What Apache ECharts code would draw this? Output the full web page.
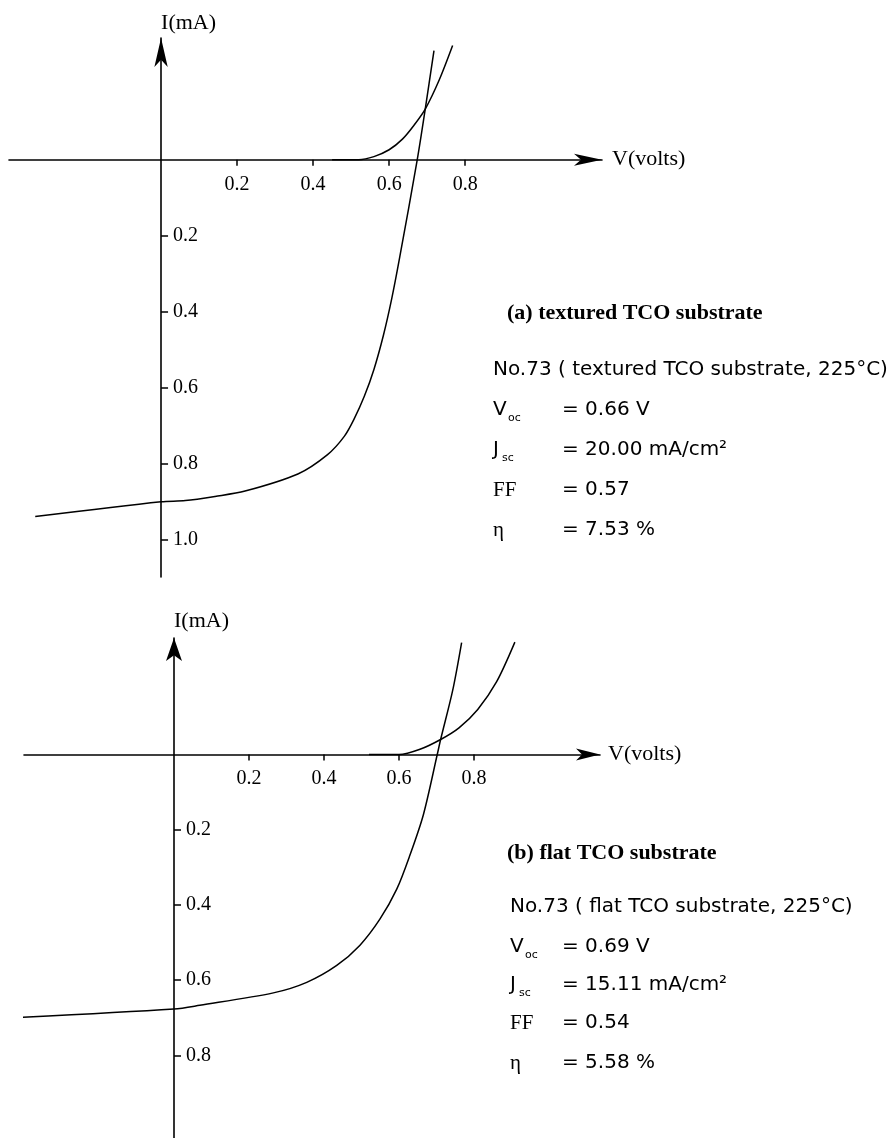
<!DOCTYPE html>
<html><head><meta charset="utf-8">
<script src="https://cdn.jsdelivr.net/npm/echarts@6/dist/echarts.min.js"></script>
<style>html,body{margin:0;padding:0;background:#fff}#c{width:893px;height:1138px}</style>
</head><body><div id="c"></div>
<script>
// ---- tick values / labels ----
const xTickValues = [0.2, 0.4, 0.6, 0.8];
const xTickLabels = ['0.2', '0.4', '0.6', '0.8'];
const yTickValuesA = [-0.2, -0.4, -0.6, -0.8, -1.0];
const yTickLabelsA = ['0.2', '0.4', '0.6', '0.8', '1.0'];
const yTickValuesB = [-0.2, -0.4, -0.6, -0.8];
const yTickLabelsB = ['0.2', '0.4', '0.6', '0.8'];

// ---- (a) textured TCO substrate ----
const voltsA_light   = [-0.331, 0.0, 0.064, 0.142, 0.221, 0.360, 0.438, 0.482, 0.508, 0.535, 0.560, 0.585, 0.607, 0.628, 0.674, 0.695, 0.718];
const currentA_light = [-0.939, -0.900, -0.897, -0.886, -0.872, -0.827, -0.776, -0.728, -0.682, -0.622, -0.552, -0.462, -0.365, -0.256, 0.0, 0.133, 0.287];
const voltsA_dark    = [0.45, 0.52, 0.56, 0.60, 0.635, 0.665, 0.695, 0.732, 0.767];
const currentA_dark  = [0.0, 0.0, 0.008, 0.026, 0.054, 0.090, 0.133, 0.210, 0.300];

// ---- (b) flat TCO substrate ----
const voltsB_light   = [-0.464, 0.0, 0.069, 0.265, 0.354, 0.434, 0.496, 0.549, 0.594, 0.629, 0.665, 0.702, 0.711, 0.743, 0.767];
const currentB_light = [-0.702, -0.677, -0.667, -0.634, -0.606, -0.561, -0.507, -0.438, -0.358, -0.268, -0.160, 0.0, 0.040, 0.170, 0.298];
const voltsB_dark    = [0.52, 0.60, 0.656, 0.711, 0.760, 0.810, 0.860, 0.909];
const currentB_dark  = [0.0, 0.0, 0.014, 0.040, 0.071, 0.120, 0.193, 0.299];

// ---- axis ranges ----
const xRangeA = [-0.4, 1.16];
const yRangeA = [-1.098, 0.32];
const xRangeB = [-0.4, 1.136];
const yRangeB = [-1.02, 0.31];

// ---- annotation texts ----
const titleA = '(a) textured TCO substrate';
const sampleA = 'No.73 ( textured TCO substrate, 225\u00B0C)';
const valuesA = ['= 0.66 V', '= 20.00 mA/cm\u00B2', '= 0.57', '= 7.53 %'];
const titleB = '(b) flat TCO substrate';
const sampleB = 'No.73 ( flat TCO substrate, 225\u00B0C)';
const valuesB = ['= 0.69 V', '= 15.11 mA/cm\u00B2', '= 0.54', '= 5.58 %'];

function zip(xs, ys) { return xs.map((x, i) => [x, ys[i]]); }
function lookup(v, vals, labels) {
  for (let i = 0; i < vals.length; i++) if (Math.abs(vals[i] - v) < 1e-6) return labels[i];
  return '';
}
const serif = 'Liberation Serif';
const sans = 'DejaVu Sans';

const grids = [
  { left: 9, top: 38, width: 593, height: 539 },
  { left: 24, top: 638, width: 576, height: 500 }
];
// offsets so the axes cross at the data origin (0,0)
function zeroOffsetX(g, r) { return -(g.width * (0 - r[0]) / (r[1] - r[0])); }
function zeroOffsetY(g, r) { return -(g.height * (0 - r[0]) / (r[1] - r[0])); }

function xAxisCfg(gi, r, yr, arrow, gap, lblMargin) {
  return {
    type: 'value', gridIndex: gi, min: r[0], max: r[1], position: 'bottom',
    offset: zeroOffsetY(grids[gi], yr),
    name: 'V(volts)', nameLocation: 'end', nameGap: gap,
    nameTextStyle: { color: '#000', fontFamily: serif, fontSize: 22, verticalAlign: 'middle', padding: [0, 0, 6, 0] },
    axisLine: { onZero: false, symbol: ['none', 'arrow'], symbolSize: arrow, lineStyle: { color: '#000', width: 1.6 } },
    axisTick: { show: true, customValues: xTickValues, length: 6, lineStyle: { color: '#000', width: 1.5 } },
    axisLabel: { customValues: xTickValues, formatter: v => lookup(v, xTickValues, xTickLabels), margin: lblMargin, color: '#000', fontFamily: serif, fontSize: 20 },
    splitLine: { show: false }
  };
}
function yAxisCfg(gi, r, xr, vals, labels, arrow, gap) {
  return {
    type: 'value', gridIndex: gi, min: r[0], max: r[1], position: 'left',
    offset: zeroOffsetX(grids[gi], xr),
    name: 'I(mA)', nameLocation: 'end', nameGap: gap,
    nameTextStyle: { color: '#000', fontFamily: serif, fontSize: 22, align: 'left' },
    axisLine: { onZero: false, symbol: ['none', 'arrow'], symbolSize: arrow, lineStyle: { color: '#000', width: 1.6 } },
    axisTick: { show: true, inside: true, customValues: vals, length: 7, lineStyle: { color: '#000', width: 1.5 } },
    axisLabel: { inside: true, customValues: vals, formatter: v => lookup(v, vals, labels), margin: 12, color: '#000', fontFamily: serif, fontSize: 20 },
    splitLine: { show: false }
  };
}
function line(xi, data) {
  return { type: 'line', xAxisIndex: xi, yAxisIndex: xi, data: data, showSymbol: false, smooth: 0.3, clip: false,
           lineStyle: { color: '#000', width: 1.5 }, silent: true };
}
function textEl(x, y, s, font, size, weight) {
  return { type: 'text', x: x, y: y, style: { text: s, fontFamily: font, fontSize: size, fontWeight: weight || 'normal', fill: '#000', verticalAlign: 'middle', align: 'left' } };
}
function block(x0, xEq, xTitle, yTitle, ySample, yRows, title, sample, values) {
  const els = [];
  els.push(textEl(xTitle, yTitle, title, serif, 22, 'bold'));
  els.push(textEl(x0, ySample, sample, sans, 20));
  els.push(textEl(x0, yRows[0], 'V', sans, 20));
  els.push(textEl(x0 + 15, yRows[0] + 8, 'oc', sans, 11));
  els.push(textEl(x0, yRows[1], 'J', sans, 20));
  els.push(textEl(x0 + 9, yRows[1] + 8, 'sc', sans, 11));
  els.push(textEl(x0, yRows[2], 'FF', serif, 21));
  els.push(textEl(x0, yRows[3], '\u03B7', serif, 21));
  values.forEach((v, i) => els.push(textEl(xEq, yRows[i], v, sans, 20)));
  return els;
}

const chart = echarts.init(document.getElementById('c'), null, { renderer: 'canvas' });
chart.setOption({
  backgroundColor: '#fff',
  animation: false,
  grid: grids,
  xAxis: [xAxisCfg(0, xRangeA, yRangeA, [9, 28], 10, 15), xAxisCfg(1, xRangeB, yRangeB, [9, 24], 8, 14)],
  yAxis: [yAxisCfg(0, yRangeA, xRangeA, yTickValuesA, yTickLabelsA, [10, 29], 4),
          yAxisCfg(1, yRangeB, xRangeB, yTickValuesB, yTickLabelsB, [12, 23], 6)],
  series: [
    line(0, zip(voltsA_light, currentA_light)),
    line(0, zip(voltsA_dark, currentA_dark)),
    line(1, zip(voltsB_light, currentB_light)),
    line(1, zip(voltsB_dark, currentB_dark))
  ],
  graphic: [].concat(
    block(493, 562, 507, 313, 370, [410, 450, 490, 530], titleA, sampleA, valuesA),
    block(510, 562, 507, 853, 907, [947, 985, 1023, 1063], titleB, sampleB, valuesB)
  )
});
</script>
</body></html>
